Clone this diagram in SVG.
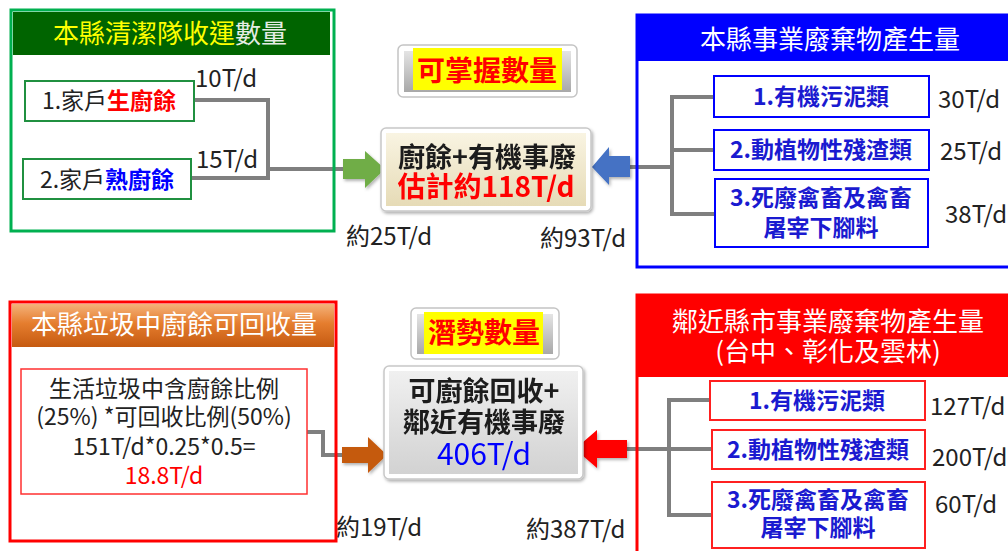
<svg xmlns="http://www.w3.org/2000/svg" width="1008" height="551" viewBox="0 0 1008 551">
<defs>
<style>
text{font-family:"Noto Sans CJK TC","Noto Sans CJK SC",sans-serif;}
.hd{font-size:26px;fill:#ffffff;text-anchor:middle;}
.it{font-size:23px;font-weight:bold;fill:#1a1ad0;text-anchor:middle;}
.lb{font-size:24px;fill:#222;}
.con{fill:none;stroke:#7f7f7f;stroke-width:4;}
.bbox{fill:#fff;stroke:#0000ff;stroke-width:2;}
.rbox{fill:#fff;stroke:#ff2020;stroke-width:2;}
.gbox{fill:#fff;stroke:#209040;stroke-width:2;}
</style>
<linearGradient id="beige" x1="0" y1="0" x2="0" y2="1">
<stop offset="0" stop-color="#f9f4e2"/><stop offset="1" stop-color="#e6dbb6"/>
</linearGradient>
<linearGradient id="grey" x1="0" y1="0" x2="0" y2="1">
<stop offset="0" stop-color="#f0f0f0"/><stop offset="1" stop-color="#d2d2d2"/>
</linearGradient>
<linearGradient id="orange" x1="0" y1="0" x2="0" y2="1">
<stop offset="0" stop-color="#f4b27a"/><stop offset="0.45" stop-color="#e57d2e"/><stop offset="1" stop-color="#c55a11"/>
</linearGradient>
<linearGradient id="shade" x1="0" y1="0" x2="0" y2="1">
<stop offset="0" stop-color="#e4e4e4"/><stop offset="1" stop-color="#a8a8a8"/>
</linearGradient>
<filter id="sh" x="-10%" y="-10%" width="130%" height="130%">
<feDropShadow dx="1.5" dy="2" stdDeviation="1.5" flood-color="#000" flood-opacity="0.3"/>
</filter>
</defs>
<rect width="1008" height="551" fill="#ffffff"/>

<g id="connectors">
<polyline class="con" points="194,100 268,100 268,178 191,178"/>
<line class="con" x1="268" y1="169" x2="345" y2="169"/>
<line class="con" x1="628" y1="167" x2="672" y2="167"/>
<polyline class="con" points="714,97 672,97 672,214 715,214"/>
<line class="con" x1="672" y1="150" x2="714" y2="150"/>
<polyline class="con" points="307,432 323,432 323,455 344,455"/>
<line class="con" x1="625" y1="449" x2="712" y2="449"/>
<polyline class="con" points="710,400 669,400 669,515 712,515"/>
<polygon points="343,159 365,159 365,151 385,169 365,188 365,179 343,179" fill="#70ad47" filter="url(#sh)"/>
<polygon points="630,156 609,156 609,147 592,167 609,185 609,177 630,177" fill="#4472c4" filter="url(#sh)"/>
<polygon points="342,447 368,447 368,437 387,455 368,473 368,463 342,463" fill="#c55a11" filter="url(#sh)"/>
<polygon points="627,440 597,440 597,430 575,449 597,468 597,458 627,458" fill="#ff0000" filter="url(#sh)"/>
</g>

<g id="cleaning-team">
<rect x="11" y="10" width="323" height="221" fill="none" stroke="#00b050" stroke-width="3"/>
<rect x="13" y="12" width="317" height="43" fill="#006400"/>
<text x="170" y="43" class="hd"><tspan fill="#ffff00">本縣清潔隊收運</tspan><tspan fill="#e4ece4">數量</tspan></text>
</g>
<g id="raw-kitchen">
<rect class="gbox" x="25" y="81" width="169" height="40"/>
<text x="109" y="109" font-size="23" text-anchor="middle" fill="#222">1.家戶<tspan fill="#ff0000" font-weight="bold">生廚餘</tspan></text>
<text x="195" y="87" class="lb">10T/d</text>
</g>
<g id="cooked-kitchen">
<rect class="gbox" x="23" y="159" width="168" height="40"/>
<text x="107" y="188" font-size="23" text-anchor="middle" fill="#222">2.家戶<tspan fill="#0000ff" font-weight="bold">熟廚餘</tspan></text>
<text x="196" y="168" class="lb">15T/d</text>
</g>

<g id="known-title">
<rect x="398" y="45" width="179" height="52" rx="5" fill="#fff" stroke="#c4c4c4" stroke-width="1.5"/>
<rect x="404" y="51" width="167" height="41" fill="url(#shade)"/>
<rect x="413" y="48" width="149" height="42" fill="#ffff00"/>
<text x="487" y="81" font-size="28" font-weight="bold" fill="#ff0000" text-anchor="middle">可掌握數量</text>
</g>
<g id="known-total" filter="url(#sh)">
<rect x="381" y="128" width="210" height="83" rx="5" fill="#fff" stroke="#c8c8c8" stroke-width="1.5"/>
<rect x="386" y="133" width="200" height="73" fill="url(#beige)"/>
<text x="487" y="167" font-size="27" font-weight="bold" fill="#1a1a1a" text-anchor="middle">廚餘+有機事廢<tspan x="486" dy="30" font-size="28" fill="#ff0000">估計約118T/d</tspan></text>
</g>
<text x="346" y="245" class="lb">約25T/d</text>
<text x="540" y="247" class="lb">約93T/d</text>

<g id="county-business">
<rect x="637" y="15" width="380" height="252" fill="none" stroke="#0000ff" stroke-width="3"/>
<rect x="637" y="15" width="380" height="46" fill="#0000ff"/>
<text x="830" y="49" class="hd">本縣事業廢棄物產生量</text>
</g>
<g id="organic-sludge">
<rect class="bbox" x="714" y="76" width="215" height="41"/>
<text x="821" y="105" class="it" font-size="24">1.有機污泥類</text>
<text x="938" y="108" class="lb">30T/d</text>
</g>
<g id="plant-animal-residue">
<rect class="bbox" x="714" y="130" width="215" height="40"/>
<text x="821" y="158" class="it">2.動植物性殘渣類</text>
<text x="940" y="160" class="lb">25T/d</text>
</g>
<g id="dead-livestock">
<rect class="bbox" x="715" y="179" width="213" height="68"/>
<text x="821" y="206" class="it">3.死廢禽畜及禽畜<tspan x="821" dy="30">屠宰下腳料</tspan></text>
<text x="945" y="223" class="lb">38T/d</text>
</g>

<g id="county-garbage">
<rect x="10" y="302" width="326" height="239" fill="none" stroke="#ff0000" stroke-width="3"/>
<rect x="12" y="304" width="322" height="43" fill="url(#orange)"/>
<text x="174" y="334" class="hd">本縣垃圾中廚餘可回收量</text>
</g>
<g id="garbage-calc">
<rect x="21" y="369" width="286" height="125" fill="#fff" stroke="#ff3030" stroke-width="1.5"/>
<text x="164" y="397" font-size="23" fill="#222" text-anchor="middle">生活垃圾中含廚餘比例<tspan x="164" dy="28">(25%) *可回收比例(50%)</tspan><tspan x="164" dy="30">151T/d*0.25*0.5=</tspan><tspan x="164" dy="29" fill="#ff0000">18.8T/d</tspan></text>
</g>

<g id="potential-title">
<rect x="411" y="308" width="148" height="51" rx="5" fill="#fff" stroke="#c4c4c4" stroke-width="1.5"/>
<rect x="417" y="314" width="136" height="40" fill="url(#shade)"/>
<rect x="424" y="312" width="119" height="42" fill="#ffff00"/>
<text x="484" y="343" font-size="28" font-weight="bold" fill="#ff0000" text-anchor="middle">潛勢數量</text>
</g>
<g id="potential-total" filter="url(#sh)">
<rect x="384" y="366" width="199" height="113" rx="5" fill="#fff" stroke="#c8c8c8" stroke-width="1.5"/>
<rect x="389" y="371" width="189" height="103" fill="url(#grey)"/>
<text x="484" y="401" font-size="27" font-weight="bold" fill="#1a1a1a" text-anchor="middle">可廚餘回收+<tspan x="484" dy="31">鄰近有機事廢</tspan><tspan x="484" dy="33" font-size="30" font-weight="normal" fill="#0000ff">406T/d</tspan></text>
</g>
<text x="336" y="536" class="lb">約19T/d</text>
<text x="526" y="538" class="lb">約387T/d</text>

<g id="neighbor-business">
<rect x="637" y="295" width="380" height="270" fill="none" stroke="#ff0000" stroke-width="3"/>
<rect x="637" y="295" width="380" height="82" fill="#ff0000"/>
<text x="828" y="331" class="hd" font-size="26.5">鄰近縣市事業廢棄物產生量<tspan x="828" dy="30">(台中、彰化及雲林)</tspan></text>
</g>
<g id="n-organic-sludge">
<rect class="rbox" x="710" y="381" width="215" height="39"/>
<text x="817" y="409" class="it" font-size="24">1.有機污泥類</text>
<text x="930" y="415" class="lb">127T/d</text>
</g>
<g id="n-plant-animal-residue">
<rect class="rbox" x="712" y="430" width="213" height="39"/>
<text x="818" y="458" class="it">2.動植物性殘渣類</text>
<text x="932" y="466" class="lb">200T/d</text>
</g>
<g id="n-dead-livestock">
<rect class="rbox" x="712" y="482" width="213" height="66"/>
<text x="818" y="508" class="it">3.死廢禽畜及禽畜<tspan x="818" dy="28">屠宰下腳料</tspan></text>
<text x="935" y="513" class="lb">60T/d</text>
</g>
</svg>
